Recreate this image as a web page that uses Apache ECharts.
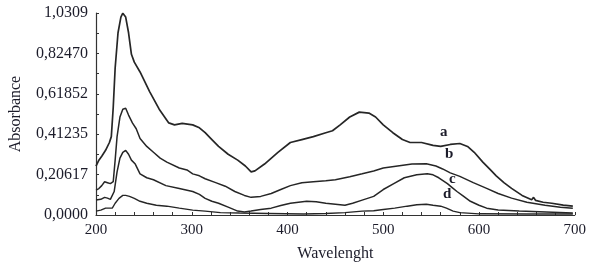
<!DOCTYPE html>
<html>
<head>
<meta charset="utf-8">
<script src="https://cdn.jsdelivr.net/npm/echarts@6/dist/echarts.min.js"></script>
<style>
  html, body { margin: 0; padding: 0; background: #fff; }
  #chart { width: 589px; height: 267px; }
</style>
</head>
<body>
<div id="chart"></div>
<script>
// wavelength (nm), absorbance
var curveA = [[200,0.25],[203,0.28],[206,0.30],[208,0.29],[210,0.33],[212,0.34],[214,0.37],[216,0.40],[218,0.55],[220,0.75],[223,0.93],[226,1.01],[228,1.03],[231,1.01],[234,0.93],[237,0.82],[240,0.78],[246,0.73],[256,0.63],[266,0.54],[276,0.47],[282,0.46],[290,0.468],[301,0.46],[308,0.445],[314,0.42],[320,0.39],[328,0.35],[338,0.31],[348,0.28],[356,0.25],[362,0.22],[366,0.225],[376,0.26],[390,0.32],[403,0.37],[415,0.385],[427,0.40],[440,0.42],[447,0.43],[455,0.46],[465,0.50],[475,0.525],[485,0.52],[492,0.50],[500,0.46],[510,0.42],[520,0.385],[528,0.37],[540,0.37],[552,0.355],[560,0.35],[570,0.36],[580,0.365],[588,0.35],[595,0.32],[604,0.27],[612,0.23],[618,0.20],[626,0.165],[634,0.136],[645,0.10],[655,0.078],[657,0.09],[659,0.075],[667,0.065],[676,0.06],[688,0.05],[698,0.045]];
var curveB = [[200,0.127],[203,0.135],[206,0.15],[209,0.17],[212,0.165],[215,0.16],[218,0.17],[220,0.28],[222,0.40],[225,0.50],[228,0.54],[231,0.545],[234,0.51],[238,0.47],[242,0.44],[246,0.39],[253,0.35],[260,0.32],[267,0.29],[274,0.27],[287,0.24],[295,0.23],[301,0.21],[308,0.20],[314,0.185],[325,0.165],[335,0.147],[345,0.12],[355,0.10],[362,0.09],[372,0.095],[383,0.11],[393,0.13],[403,0.15],[415,0.165],[427,0.17],[440,0.175],[450,0.18],[465,0.195],[478,0.21],[490,0.225],[500,0.24],[515,0.25],[530,0.26],[545,0.262],[555,0.25],[562,0.235],[570,0.215],[580,0.197],[594,0.165],[608,0.136],[620,0.11],[634,0.086],[650,0.065],[669,0.05],[685,0.04],[698,0.035]];
var curveC = [[200,0.076],[205,0.08],[209,0.09],[212,0.086],[215,0.08],[217,0.08],[219,0.12],[222,0.22],[225,0.29],[228,0.32],[231,0.33],[234,0.31],[237,0.28],[241,0.26],[246,0.21],[253,0.19],[260,0.18],[273,0.15],[287,0.135],[301,0.12],[308,0.105],[314,0.085],[321,0.07],[328,0.06],[338,0.04],[348,0.02],[355,0.015],[362,0.02],[372,0.028],[383,0.035],[393,0.048],[403,0.06],[420,0.07],[430,0.068],[440,0.06],[450,0.055],[460,0.05],[468,0.06],[478,0.076],[490,0.095],[500,0.13],[511,0.16],[522,0.19],[535,0.205],[546,0.21],[552,0.205],[558,0.19],[567,0.16],[572,0.14],[577,0.12],[584,0.095],[591,0.07],[600,0.05],[608,0.035],[620,0.025],[642,0.02],[670,0.015],[698,0.01]];
var curveD = [[200,0.02],[205,0.025],[210,0.035],[214,0.035],[217,0.035],[220,0.06],[224,0.085],[228,0.10],[231,0.10],[235,0.095],[240,0.085],[246,0.07],[253,0.06],[263,0.05],[274,0.045],[287,0.035],[301,0.025],[314,0.02],[330,0.012],[350,0.01],[380,0.008],[417,0.005],[440,0.008],[460,0.012],[478,0.02],[490,0.022],[500,0.028],[512,0.035],[525,0.045],[535,0.052],[545,0.055],[552,0.05],[560,0.045],[566,0.035],[573,0.02],[580,0.012],[600,0.006],[650,0.005],[698,0.005]];

var yLabels = ['0,0000', '0,20617', '0,41235', '0,61852', '0,82470', '1,0309'];
var curveNames = ['a', 'b', 'c', 'd'];

var font = '"Liberation Serif", "DejaVu Serif", serif';
var ink = '#1c1c2a';

var chart = echarts.init(document.getElementById('chart'));

function line(name, data, w) {
  return {
    name: name,
    type: 'line',
    data: data,
    showSymbol: false,
    smooth: false,
    lineStyle: { color: '#262626', width: w }
  };
}

chart.setOption({
  animation: false,
  grid: { left: 88, right: 12, top: 13, bottom: 50 },
  xAxis: {
    type: 'value',
    min: 200, max: 700, interval: 100,
    name: 'Wavelenght',
    nameLocation: 'middle',
    nameGap: 31,
    nameTextStyle: { fontFamily: font, fontSize: 16, color: ink },
    axisLine: { lineStyle: { color: '#333', width: 1.2 } },
    axisTick: { inside: true, length: 3, lineStyle: { color: '#333' } },
    minorTick: { show: true, splitNumber: 5, length: 3, lineStyle: { color: '#333' } },
    splitLine: { show: false },
    axisLabel: { fontFamily: font, fontSize: 15, color: ink, margin: 8 }
  },
  yAxis: {
    type: 'value',
    min: 0, max: 1.0309, interval: 1.0309 / 5,
    name: 'Absorbance',
    nameLocation: 'middle',
    nameGap: 72,
    nameRotate: 90,
    nameTextStyle: { fontFamily: font, fontSize: 16, color: ink },
    axisLine: { show: true, lineStyle: { color: '#333', width: 1.2 } },
    axisTick: { show: true, inside: true, length: 3, lineStyle: { color: '#333' } },
    minorTick: { show: true, splitNumber: 2, length: 3, lineStyle: { color: '#333' } },
    splitLine: { show: false },
    axisLabel: {
      fontFamily: font, fontSize: 16, color: ink, margin: 8,
      formatter: function (v, i) { return yLabels[i]; }
    }
  },
  graphic: [
    { type: 'text', left: 440, top: 125, style: { text: curveNames[0], font: 'bold 15px ' + font, fill: ink } },
    { type: 'text', left: 445, top: 147, style: { text: curveNames[1], font: 'bold 15px ' + font, fill: ink } },
    { type: 'text', left: 449, top: 172, style: { text: curveNames[2], font: 'bold 15px ' + font, fill: ink } },
    { type: 'text', left: 443, top: 187, style: { text: curveNames[3], font: 'bold 15px ' + font, fill: ink } }
  ],
  series: [
    line('a', curveA, 1.7),
    line('b', curveB, 1.5),
    line('c', curveC, 1.5),
    line('d', curveD, 1.4)
  ]
});
</script>
</body>
</html>
